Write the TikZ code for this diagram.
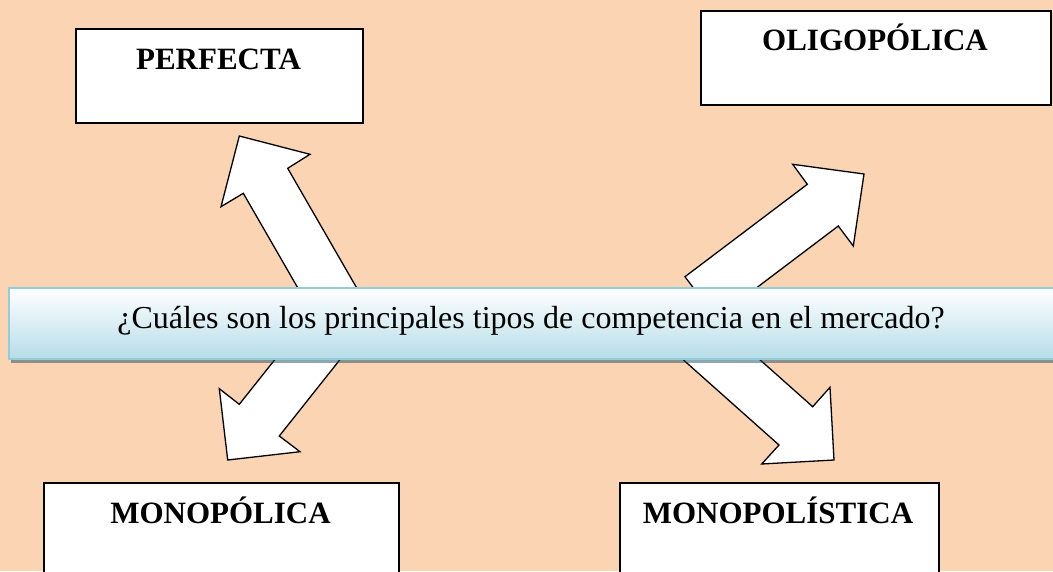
\documentclass[tikz,border=0pt]{standalone}
\usepackage{fontspec}
\setmainfont{Liberation Serif}
\definecolor{bg}{HTML}{FBD4B4}
\definecolor{bannerborder}{HTML}{92CDDC}
\definecolor{bannerbot}{HTML}{B6DDE8}
\definecolor{shadowc}{HTML}{204E5E}
\begin{document}
\begin{tikzpicture}[x=1pt,y=-1pt,
  blockarrow/.style={draw=black, fill=white, line width=1.3pt, line join=miter},
  titlebox/.style={draw=black, fill=white, line width=1.5pt, anchor=north west, inner sep=0pt},
  titletext/.style={anchor=base, inner sep=0pt, font=\fontsize{31}{31}\selectfont\bfseries},
  bannerbox/.style={draw=bannerborder, line width=2pt, top color=white, bottom color=bannerbot, anchor=north west, inner sep=0pt},
  bannertext/.style={anchor=base, inner sep=0pt, font=\fontsize{32}{32}\selectfont},
]
\useasboundingbox (0,0) rectangle (1053,571);
\clip (0,0) rectangle (1053,571);
\fill[bg] (0,0) rectangle (1053,571);

% boxes
\node[titlebox, minimum width=287pt, minimum height=94pt] (perfbox) at (75,28) {};
\node[titlebox, minimum width=350pt, minimum height=94pt] (oligbox) at (700,10) {};
\node[titlebox, minimum width=355pt, minimum height=120pt] (monobox) at (43,482) {};
\node[titlebox, minimum width=319pt, minimum height=120pt] (mlisbox) at (619,482) {};

\node[titletext] (perf) at (218.5,69) {PERFECTA};
\node[titletext] (olig) at (875,50) {OLIGOPÓLICA};
\node[titletext] (mono) at (220.5,523) {MONOPÓLICA};
\node[titletext] (mlis) at (778,523) {MONOPOLÍSTICA};

% block arrows (tails hidden behind the banner)
\draw[blockarrow] (239.3,136) -- (310,154.3) -- (287.7,168.3) -- (375.2,320)
  -- (331,345.5) -- (243.3,193.3) -- (221,206.7) -- cycle;
\draw[blockarrow] (864,174) -- (853.3,246) -- (838.3,226) -- (716.2,318.3)
  -- (685,276.7) -- (807.3,184.3) -- (792.7,164.3) -- cycle;
\draw[blockarrow] (227.7,460) -- (219.3,388.7) -- (239.3,404.3) -- (322.2,300)
  -- (362.1,331.7) -- (279.3,436) -- (300,451.7) -- cycle;
\draw[blockarrow] (834,460) -- (761.7,464) -- (779,445) -- (649.8,330)
  -- (683.7,291.9) -- (812.7,406.7) -- (830,387.3) -- cycle;

% banner
\fill[shadowc, opacity=0.5] (11,291) rectangle (1070,362.7);
\node[bannerbox, minimum width=1062pt, minimum height=71pt] (banner) at (8,287) {};
\node[bannertext] (question) at (531,328) {¿Cuáles son los principales tipos de competencia en el mercado?};
\end{tikzpicture}
\end{document}
